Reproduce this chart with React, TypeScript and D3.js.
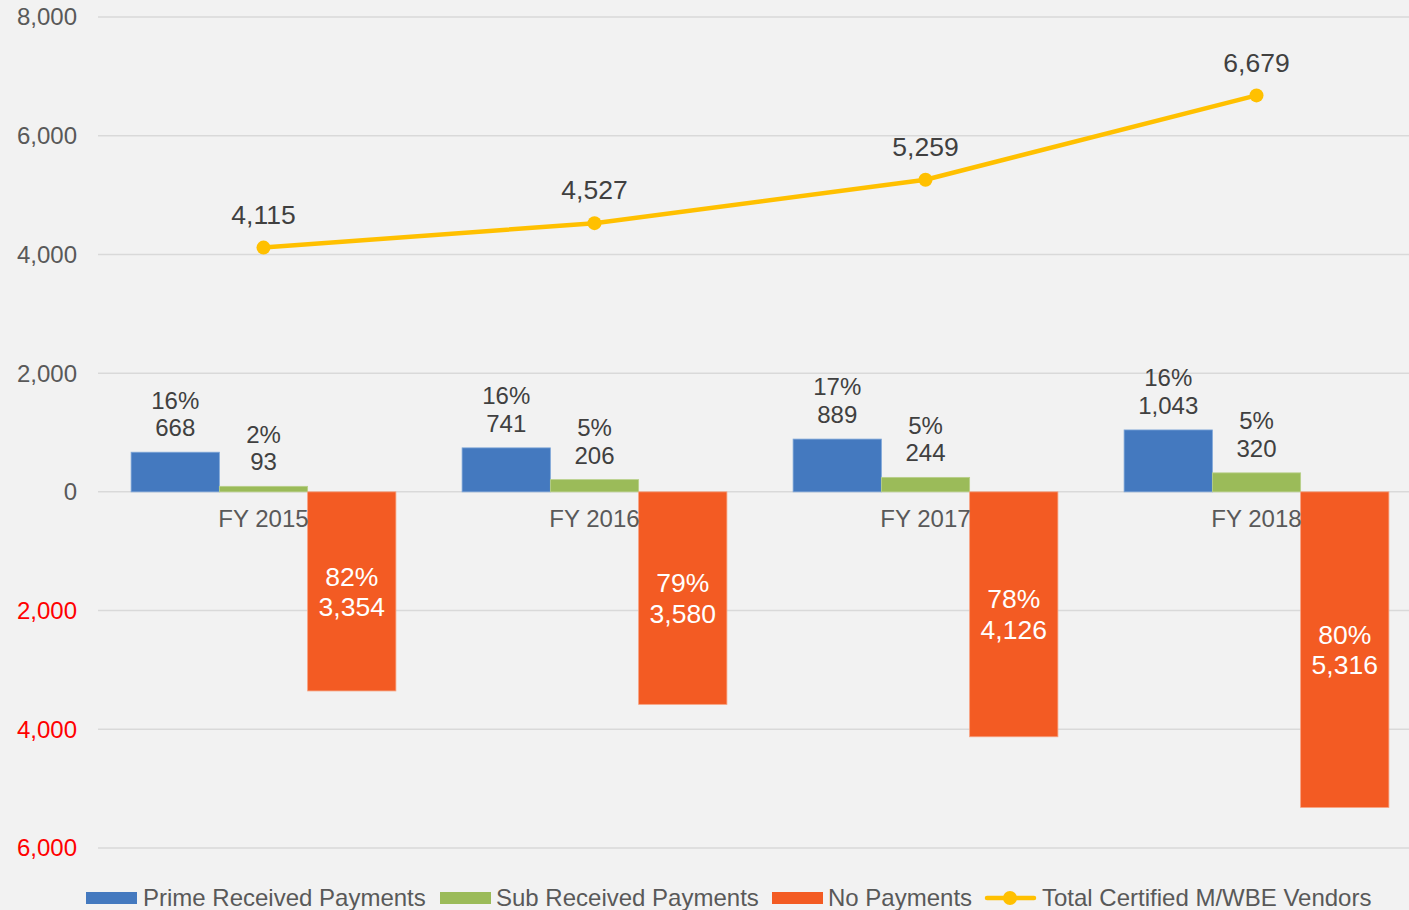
import React from "react";
import * as d3 from "d3";

const categories = ["FY 2015", "FY 2016", "FY 2017", "FY 2018"];
const primeValues = [668, 741, 889, 1043];
const primePct = ["16%", "16%", "17%", "16%"];
const subValues = [93, 206, 244, 320];
const subPct = ["2%", "5%", "5%", "5%"];
const noPayValues = [3354, 3580, 4126, 5316];
const noPayPct = ["82%", "79%", "78%", "80%"];
const totalVendors = [4115, 4527, 5259, 6679];
const yTicks = [8000, 6000, 4000, 2000, 0, -2000, -4000, -6000];
const seriesNames = ["Prime Received Payments", "Sub Received Payments", "No Payments", "Total Certified M/WBE Vendors"];

const W = 1409;
const H = 910;
const FONT = "'Liberation Sans', Arial, sans-serif";
const BLUE = "#4479bf";
const GREEN = "#9bbb59";
const ORANGE = "#f35b23";
const YELLOW = "#ffc000";
const TEXT = "#595959";
const LABEL = "#404040";
const fmt = d3.format(",");

export default function App() {
  const y = d3.scaleLinear().domain([-6000, 8000]).range([848, 17]);
  const x = d3.scaleBand().domain(categories).range([98, 98 + 331 * 4]).paddingInner(0).paddingOuter(0);
  const bw = x.bandwidth();
  const barW = (bw * 0.8) / 3;
  const off = bw * 0.1;
  const cx = (c: string) => (x(c) as number) + bw / 2;

  const line = d3
    .line<number>()
    .x((_, i) => cx(categories[i]))
    .y((d) => y(d));

  const fs = 24;
  const fsBig = 26.5;

  return (
    <svg width={W} height={H} style={{ position: "absolute", left: 0, top: 0, background: "#f2f2f2" }} fontFamily={FONT}>
      <rect x={0} y={0} width={W} height={H} fill="#f2f2f2" />
      {yTicks.map((t) => (
        <g key={t}>
          <line x1={98} x2={W + 20} y1={y(t)} y2={y(t)} stroke="#d9d9d9" strokeWidth={1.5} />
          <text x={77} y={y(t)} dy="0.35em" textAnchor="end" fontSize={fs} fill={t < 0 ? "#ff0000" : TEXT}>
            {fmt(Math.abs(t))}
          </text>
        </g>
      ))}
      {categories.map((c, i) => {
        const x0 = (x(c) as number) + off;
        const py = y(primeValues[i]);
        const sy = y(subValues[i]);
        const ny = y(-noPayValues[i]);
        const y0 = y(0);
        return (
          <g key={c}>
            <rect x={x0} y={py} width={barW} height={y0 - py} fill={BLUE} stroke="#7ea6d8" strokeWidth={0.8} />
            <rect x={x0 + barW} y={sy} width={barW} height={y0 - sy} fill={GREEN} stroke="#b9d08a" strokeWidth={0.8} />
            <rect x={x0 + 2 * barW} y={y0} width={barW} height={ny - y0} fill={ORANGE} stroke="#f7a07e" strokeWidth={0.8} />
            <text x={x0 + barW / 2} y={py - 16} textAnchor="middle" fontSize={fs} fill={LABEL}>
              <tspan x={x0 + barW / 2} dy="-1.15em">{primePct[i]}</tspan>
              <tspan x={x0 + barW / 2} dy="1.15em">{fmt(primeValues[i])}</tspan>
            </text>
            <text x={x0 + barW * 1.5} y={sy - 16} textAnchor="middle" fontSize={fs} fill={LABEL}>
              <tspan x={x0 + barW * 1.5} dy="-1.15em">{subPct[i]}</tspan>
              <tspan x={x0 + barW * 1.5} dy="1.15em">{fmt(subValues[i])}</tspan>
            </text>
            <text x={x0 + barW * 2.5} y={(y0 + ny) / 2} textAnchor="middle" fontSize={fsBig} fill="#ffffff">
              <tspan x={x0 + barW * 2.5} dy="-0.22em">{noPayPct[i]}</tspan>
              <tspan x={x0 + barW * 2.5} dy="1.15em">{fmt(noPayValues[i])}</tspan>
            </text>
            <text x={cx(c)} y={y(0) + 27} dy="0.35em" textAnchor="middle" fontSize={fs} fill={TEXT}>
              {c}
            </text>
          </g>
        );
      })}
      <path d={line(totalVendors) || ""} fill="none" stroke={YELLOW} strokeWidth={4.5} strokeLinecap="round" strokeLinejoin="round" />
      {totalVendors.map((v, i) => (
        <g key={i}>
          <circle cx={cx(categories[i])} cy={y(v)} r={7} fill={YELLOW} />
          <text x={cx(categories[i])} y={y(v) - 33} dy="0.35em" textAnchor="middle" fontSize={fsBig} fill={LABEL}>
            {fmt(v)}
          </text>
        </g>
      ))}
      <g fontSize={fs} fill={TEXT}>
        <rect x={86} y={892} width={51} height={12} fill={BLUE} />
        <text x={143} y={898} dy="0.35em">{seriesNames[0]}</text>
        <rect x={440} y={892} width={51} height={12} fill={GREEN} />
        <text x={496} y={898} dy="0.35em">{seriesNames[1]}</text>
        <rect x={772} y={892} width={51} height={12} fill={ORANGE} />
        <text x={828} y={898} dy="0.35em">{seriesNames[2]}</text>
        <line x1={987} x2={1034} y1={898} y2={898} stroke={YELLOW} strokeWidth={4.5} strokeLinecap="round" />
        <circle cx={1010} cy={898} r={7} fill={YELLOW} />
        <text x={1042} y={898} dy="0.35em">{seriesNames[3]}</text>
      </g>
    </svg>
  );
}
